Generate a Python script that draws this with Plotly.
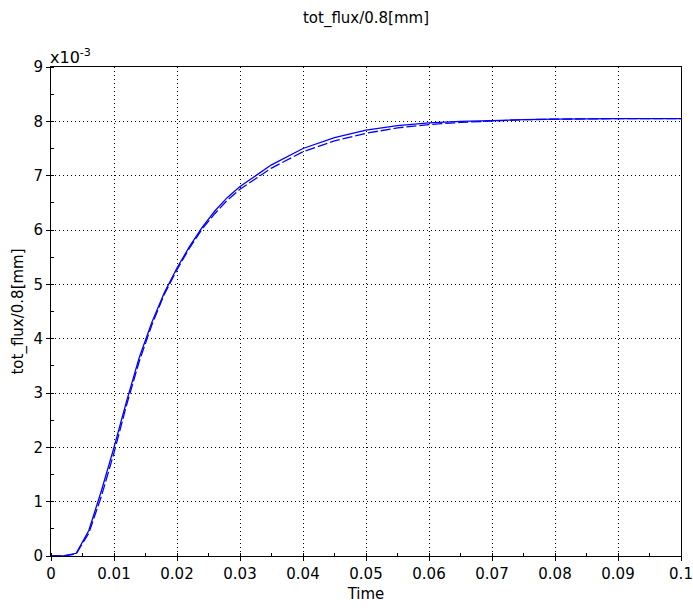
import plotly.graph_objects as go

# Time samples [s]
time = [0, 0.002, 0.004, 0.006, 0.008, 0.010, 0.012, 0.014, 0.016, 0.018,
        0.020, 0.022, 0.024, 0.026, 0.028, 0.030, 0.035, 0.040, 0.045, 0.050,
        0.055, 0.060, 0.065, 0.070, 0.075, 0.080, 0.085, 0.090, 0.095, 0.100]

# tot_flux/0.8[mm], in units of 1e-3
flux_solid = [0, 0.0, 0.05, 0.47, 1.20, 2.00, 2.85, 3.65, 4.30, 4.85,
              5.30, 5.70, 6.05, 6.35, 6.60, 6.80, 7.20, 7.50, 7.70, 7.84,
              7.92, 7.97, 8.00, 8.02, 8.03, 8.04, 8.05, 8.05, 8.05, 8.05]
flux_dashed = [0, 0.0, 0.04, 0.42, 1.10, 1.90, 2.78, 3.58, 4.25, 4.82,
               5.27, 5.67, 6.02, 6.30, 6.55, 6.75, 7.14, 7.44, 7.64, 7.78,
               7.88, 7.94, 7.98, 8.01, 8.03, 8.04, 8.05, 8.05, 8.05, 8.05]

x_ticks = [0, 0.01, 0.02, 0.03, 0.04, 0.05, 0.06, 0.07, 0.08, 0.09, 0.1]
x_labels = ["0", "0.01", "0.02", "0.03", "0.04", "0.05", "0.06", "0.07", "0.08", "0.09", "0.1"]
y_ticks = list(range(0, 10))

FONT = "DejaVu Sans"
FS = 15

fig = go.Figure()
fig.add_trace(go.Scatter(x=time, y=flux_solid, mode="lines",
                         line=dict(color="#0000ff", width=1.3), showlegend=False))
fig.add_trace(go.Scatter(x=time, y=flux_dashed, mode="lines",
                         line=dict(color="#0000ff", width=1.3, dash="10px,3px"),
                         showlegend=False))

axis_common = dict(
    showline=True, linecolor="black", linewidth=1, mirror=True,
    showgrid=True, gridcolor="black", gridwidth=1, griddash="1px,3px",
    ticks="outside", ticklen=4, tickcolor="black",
    tickfont=dict(family=FONT, size=FS, color="black"),
    zeroline=False, automargin=False,
)

fig.update_xaxes(
    range=[0, 0.1], tickvals=x_ticks, ticktext=x_labels,
    title=dict(text="Time", font=dict(family=FONT, size=FS, color="black"), standoff=6),
    minor=dict(ticks="inside", ticklen=3, tickcolor="black", nticks=5, showgrid=False),
    **axis_common,
)
fig.update_yaxes(
    range=[0, 9], tickvals=y_ticks,
    title=dict(text="tot_flux/0.8[mm]", font=dict(family=FONT, size=FS, color="black"), standoff=6),
    minor=dict(ticks="inside", ticklen=3, tickcolor="black", nticks=5, showgrid=False),
    **axis_common,
)

fig.add_annotation(
    text="x10<sup>-3</sup>", xref="paper", yref="paper", x=0, y=1,
    xanchor="left", yanchor="bottom", showarrow=False, yshift=-2, xshift=-3,
    font=dict(family=FONT, size=16, color="black"),
)

fig.update_layout(
    width=693, height=610,
    margin=dict(l=51, r=12, t=67, b=54),
    paper_bgcolor="white", plot_bgcolor="white",
    title=dict(text="tot_flux/0.8[mm]", x=(51 + 315) / 693, xanchor="center",
               y=1 - 18 / 610, yanchor="middle",
               font=dict(family=FONT, size=FS, color="black")),
)

fig.write_html("out.html")
